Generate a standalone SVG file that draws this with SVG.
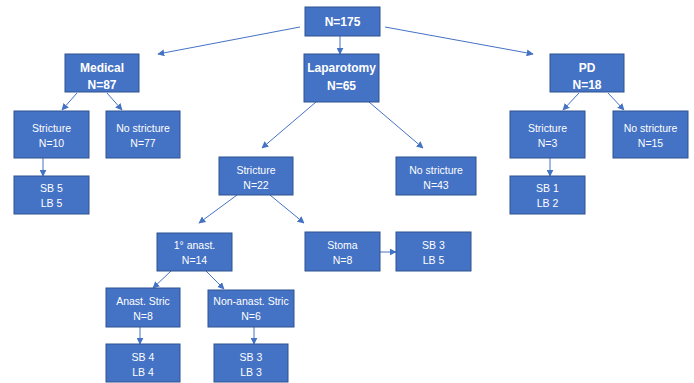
<svg xmlns="http://www.w3.org/2000/svg" width="694" height="383" viewBox="0 0 694 383">
<defs>
<marker id="ah" viewBox="0 0 10 10" refX="9" refY="5" markerWidth="7" markerHeight="7" markerUnits="userSpaceOnUse" orient="auto">
<path d="M0,0 L10,5 L0,10 z" fill="#4472C4"/>
</marker>
<style>
.box{fill:#4472C4;stroke:#2F528F;stroke-width:1}
.t{font-family:"Liberation Sans",Arial,sans-serif;font-size:10.5px;fill:#fff;text-anchor:middle}
.b{font-family:"Liberation Sans",Arial,sans-serif;font-size:12px;font-weight:bold;fill:#fff;text-anchor:middle}
.c{stroke:#4472C4;stroke-width:1;fill:none;marker-end:url(#ah)}
</style>
</defs>
<rect width="694" height="383" fill="#fff"/>
<g id="connectors">
<line class="c" x1="300" y1="27" x2="158" y2="54"/>
<line class="c" x1="340" y1="36" x2="340" y2="54"/>
<line class="c" x1="385" y1="27" x2="533" y2="54"/>
<line class="c" x1="77" y1="93" x2="62" y2="110"/>
<line class="c" x1="107" y1="93" x2="122" y2="110"/>
<line class="c" x1="43" y1="158" x2="43" y2="176"/>
<line class="c" x1="316" y1="102" x2="262" y2="148"/>
<line class="c" x1="369" y1="102" x2="423" y2="148"/>
<line class="c" x1="579" y1="93" x2="563" y2="110"/>
<line class="c" x1="608" y1="93" x2="624" y2="110"/>
<line class="c" x1="550" y1="158" x2="550" y2="176"/>
<line class="c" x1="237" y1="195" x2="199" y2="223"/>
<line class="c" x1="270" y1="195" x2="304" y2="223"/>
<line class="c" x1="171" y1="271" x2="153" y2="288"/>
<line class="c" x1="206" y1="271" x2="224" y2="289"/>
<line class="c" x1="140" y1="327" x2="140" y2="344"/>
<line class="c" x1="254" y1="327" x2="254" y2="344"/>
<line class="c" x1="380" y1="252" x2="396" y2="252"/>
</g>
<g id="n175"><rect class="box" x="305" y="7" width="75" height="29"/><text class="b" x="342.5" y="26">N=175</text></g>
<g id="medical"><rect class="box" x="65" y="54" width="74" height="38"/><text class="b" x="102" y="72">Medical</text><text class="b" x="102" y="89">N=87</text></g>
<g id="laparotomy"><rect class="box" x="304" y="54" width="75" height="48"/><text class="b" x="341.5" y="72">Laparotomy</text><text class="b" x="341.5" y="90">N=65</text></g>
<g id="pd"><rect class="box" x="550" y="54" width="74" height="38"/><text class="b" x="587" y="72">PD</text><text class="b" x="587" y="89">N=18</text></g>
<g id="strict10"><rect class="box" x="14" y="111" width="75" height="47"/><text class="t" x="51.5" y="132">Stricture</text><text class="t" x="51.5" y="147">N=10</text></g>
<g id="nostrict77"><rect class="box" x="106" y="111" width="74" height="47"/><text class="t" x="143" y="132">No stricture</text><text class="t" x="143" y="147">N=77</text></g>
<g id="strict3"><rect class="box" x="510" y="111" width="75" height="47"/><text class="t" x="547.5" y="132">Stricture</text><text class="t" x="547.5" y="147">N=3</text></g>
<g id="nostrict15"><rect class="box" x="613" y="111" width="75" height="47"/><text class="t" x="650.5" y="132">No stricture</text><text class="t" x="650.5" y="147">N=15</text></g>
<g id="sb5lb5"><rect class="box" x="14" y="176" width="75" height="38"/><text class="t" x="51.5" y="192">SB 5</text><text class="t" x="51.5" y="207">LB 5</text></g>
<g id="sb1lb2"><rect class="box" x="510" y="176" width="75" height="38"/><text class="t" x="547.5" y="192">SB 1</text><text class="t" x="547.5" y="207">LB 2</text></g>
<g id="strict22"><rect class="box" x="219" y="157" width="74" height="38"/><text class="t" x="256" y="174">Stricture</text><text class="t" x="256" y="189">N=22</text></g>
<g id="nostrict43"><rect class="box" x="396" y="157" width="80" height="38"/><text class="t" x="436" y="174">No stricture</text><text class="t" x="436" y="189">N=43</text></g>
<g id="anast1"><rect class="box" x="157" y="233" width="75" height="38"/><text class="t" x="194.5" y="249">1° anast.</text><text class="t" x="194.5" y="264">N=14</text></g>
<g id="stoma"><rect class="box" x="305" y="232" width="75" height="39"/><text class="t" x="342.5" y="249">Stoma</text><text class="t" x="342.5" y="264">N=8</text></g>
<g id="sb3lb5"><rect class="box" x="396" y="232" width="75" height="39"/><text class="t" x="433.5" y="249">SB 3</text><text class="t" x="433.5" y="264">LB 5</text></g>
<g id="anaststric"><rect class="box" x="106" y="288" width="74" height="39"/><text class="t" x="143" y="305">Anast. Stric</text><text class="t" x="143" y="320">N=8</text></g>
<g id="nonanaststric"><rect class="box" x="208" y="290" width="86" height="37"/><text class="t" x="251" y="305">Non-anast. Stric</text><text class="t" x="251" y="320">N=6</text></g>
<g id="sb4lb4"><rect class="box" x="106" y="344" width="74" height="38"/><text class="t" x="143" y="361">SB 4</text><text class="t" x="143" y="376">LB 4</text></g>
<g id="sb3lb3"><rect class="box" x="214" y="344" width="74" height="38"/><text class="t" x="251" y="361">SB 3</text><text class="t" x="251" y="376">LB 3</text></g>
</svg>
